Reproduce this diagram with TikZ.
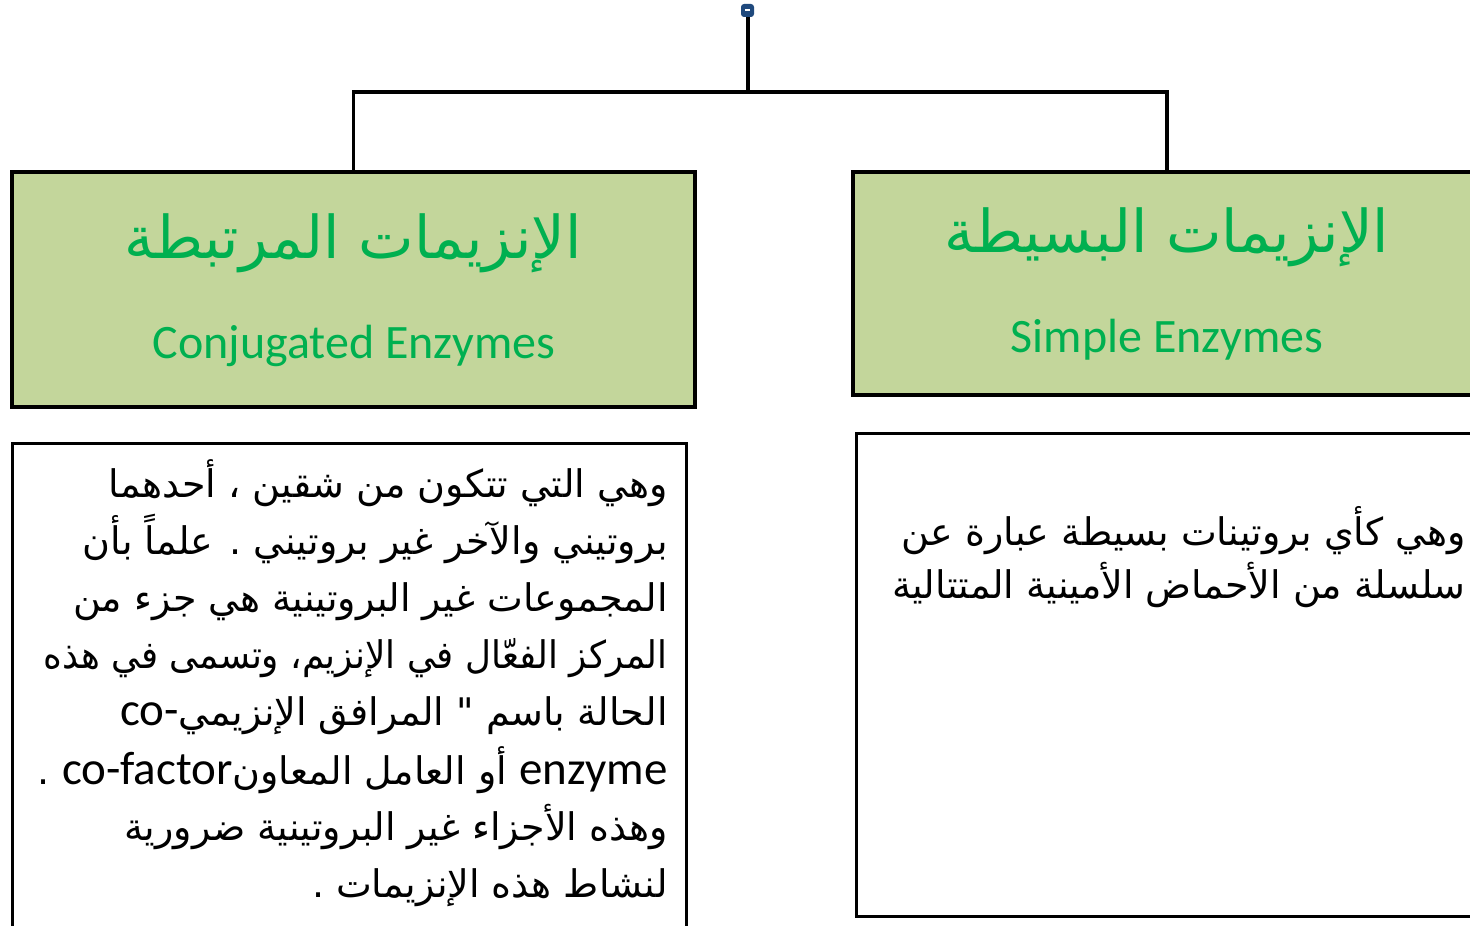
\documentclass[tikz,border=0pt]{standalone}
\usepackage{fontspec}
\usepackage{graphicx}
\setmainfont{Carlito}
\newfontfamily\arabicfont[Script=Arabic]{DejaVu Sans}
\TeXXeTstate=1
\definecolor{boxgreen}{HTML}{C3D69B}
\definecolor{titlegreen}{HTML}{00B050}
\definecolor{btnblue}{HTML}{1F497D}
\newcommand\AR[1]{\beginR #1\endR}
\newcommand\LT[1]{\beginL{\rmfamily\fontsize{23.5}{28}\selectfont #1}\endL{}}
\tikzset{
  greenbox/.style={draw=black, line width=2pt, fill=boxgreen, inner sep=0pt},
  textbox/.style={draw=black, line width=1.5pt, fill=white, inner sep=0pt},
  conn/.style={draw=black, line width=1.6pt},
  btn/.style={fill=btnblue, rounded corners=1.5pt, minimum size=6.5pt, inner sep=0pt},
  arhead/.style={text=titlegreen, font=\arabicfont\fontsize{29.5}{36}\selectfont, anchor=base, inner sep=0pt},
  enhead/.style={text=titlegreen, font=\fontsize{24}{28}\selectfont, anchor=base, inner sep=0pt},
  bodyline/.style={font=\arabicfont\fontsize{19}{24}\selectfont, anchor=base east, inner sep=0pt},
}
\begin{document}
\begin{tikzpicture}[x=0.5pt,y=-0.5pt]
\useasboundingbox (0,0) rectangle (1470,925);
\clip (0,0) rectangle (1470,925);
\fill[white] (0,0) rectangle (1470,925);
% boxes
\node[greenbox, minimum width=341.5pt, minimum height=117.5pt] (conj) at (353.5,289.5) {};
\node[greenbox, minimum width=314pt, minimum height=111.5pt] (simp) at (1167,283.5) {};
\node[textbox, minimum width=337pt, minimum height=268.25pt] (conjtext) at (349.5,711.75) {};
\node[textbox, minimum width=314.25pt, minimum height=241.5pt] (simptext) at (1170.75,675) {};
% button
\node[btn] (top) at (747.5,10.5) {};
\draw[white, line width=1pt] ([xshift=-1.3pt]top.center) -- ([xshift=1.3pt]top.center);
% connectors
\coordinate (hub) at (747.5,92);
\draw[black, line width=2pt] (top.south) -- (hub);
\draw[conn] (hub) -| (conj.north);
\draw[conn] (hub) -| (simp.north);
% headings
\node[arhead] (conjar) at (353.5,258) {\AR{الإنزيمات المرتبطة}};
\node[enhead] (conjen) at (354,358) {Conjugated Enzymes};
\node[arhead] (simpar) at (1167,252) {\AR{الإنزيمات البسيطة}};
\node[enhead] (simpen) at (1167,352) {Simple Enzymes};
% left body
\node[bodyline] (l1) at (668,497) {\AR{وهي التي تتكون من شقين ، أحدهما}};
\node[bodyline] (l2) at (668,554) {\AR{بروتيني والآخر غير بروتيني . علماً بأن}};
\node[bodyline] (l3) at (668,611) {\AR{المجموعات غير البروتينية هي جزء من}};
\node[bodyline] (l4) at (668,668) {\scalebox{0.94}[1]{\AR{المركز الفعّال في الإنزيم، وتسمى في هذه}}};
\node[bodyline] (l5) at (668,725) {\AR{الحالة باسم " المرافق الإنزيمي\LT{co-}}};
\node[bodyline] (l6) at (668,784) {\AR{\LT{enzyme} أو العامل المعاون\LT{co-factor} .}};
\node[bodyline] (l7) at (668,840) {\AR{وهذه الأجزاء غير البروتينية ضرورية}};
\node[bodyline] (l8) at (668,897) {\AR{لنشاط هذه الإنزيمات .}};
% right body
\node[bodyline] (r1) at (1466,545) {\AR{وهي كأي بروتينات بسيطة عبارة عن}};
\node[bodyline] (r2) at (1466,598) {\AR{سلسلة من الأحماض الأمينية المتتالية}};
\end{tikzpicture}
\end{document}
